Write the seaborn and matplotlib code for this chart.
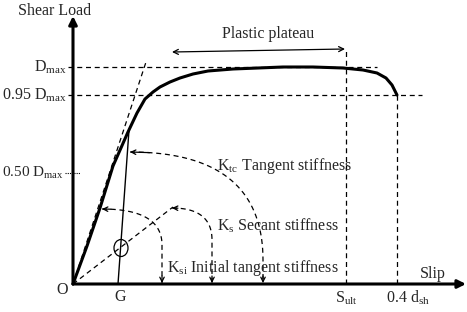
import numpy as np
import seaborn as sns
import matplotlib.pyplot as plt
from matplotlib.patches import Ellipse

# load-slip curve (slip, load) in drawing units
slip = [0, 14, 27, 40, 55, 64, 72, 80, 87, 97, 107, 120, 135, 160, 185, 210, 240, 270, 290, 304, 313, 319, 324]
load = [0, 38, 76, 118, 152, 171, 185, 192, 197, 202, 206, 210, 213, 215, 216, 217, 217, 216, 214, 211, 206, 199, 189]

d_max = 217
d_95 = 189
d_50 = 111
s_ult = 273
d_sh04 = 324
g_slip = 45

level_labels = ["D$_{\\rm max}$", "0.95 D$_{\\rm max}$", "0.50 D$_{\\rm max}$"]
slip_labels = ["S$_{\\rm ult}$", "0.4 d$_{\\rm sh}$"]
stiff_labels = ["K$_{\\rm tc}$ Tangent stiffness", "K$_{\\rm s}$ Secant stiffness",
                "K$_{\\rm si}$ Initial tangent stiffness"]

# stiffness lines (end points from origin)
tangent_end = (73, 222)
secant_end = (100, 77)
g_top = (56, 154)

# arcs: start, corner control, vertical end
arcs = [((57, 132), (190, 132), (190, 24)),
        ((99, 76), (139, 76), (139, 44)),
        ((29, 75), (89, 75), (89, 39))]

sns.set_theme(style="white")
plt.rcParams['font.family'] = ['Liberation Serif', 'DejaVu Serif']
plt.rcParams['mathtext.fontset'] = 'custom'
plt.rcParams['mathtext.rm'] = 'Liberation Serif'

fig = plt.figure(figsize=(4.67, 3.12), dpi=100)
ax = fig.add_axes([0, 0, 1, 1])
ax.set_xlim(-73, 394)
ax.set_ylim(-28, 284)
ax.axis('off')

fs = 11.5
dash = (0, (4, 3))

# axes with arrows
ax.annotate('', xy=(0, 268), xytext=(0, 0),
            arrowprops=dict(arrowstyle='-|>', lw=2.2, color='black', mutation_scale=12, shrinkA=0, shrinkB=0))
ax.annotate('', xy=(393, 0), xytext=(0, 0),
            arrowprops=dict(arrowstyle='-|>', lw=2.2, color='black', mutation_scale=12, shrinkA=0, shrinkB=0))

# main curve
sns.lineplot(x=slip, y=load, sort=False, color='black', lw=2.2, ax=ax)

# reference levels
ax.plot([-5, 304], [d_max, d_max], color='black', lw=0.9, ls=dash)
ax.plot([-5, 349], [d_95, d_95], color='black', lw=0.9, ls=dash)
ax.plot([-8, 7], [d_50, d_50], color='black', lw=0.8, ls=(0, (1, 1)))
ax.plot([s_ult, s_ult], [0, 235], color='black', lw=0.9, ls=dash)
ax.plot([d_sh04, d_sh04], [0, d_95], color='black', lw=0.9, ls=dash)

# stiffness lines
ax.plot([0, tangent_end[0]], [0, tangent_end[1]], color='black', lw=0.9, ls=dash)
ax.plot([0, secant_end[0]], [0, secant_end[1]], color='black', lw=0.9, ls=dash)
ax.plot([g_slip, g_top[0]], [0, g_top[1]], color='black', lw=1.0)
ax.add_patch(Ellipse((48, 36), 14, 17, fill=False, color='black', lw=0.9))

# dashed arcs with arrowheads
t = np.linspace(0, 1, 40)
for p0, c, p2 in arcs:
    bx = (1 - t) ** 2 * p0[0] + 2 * t * (1 - t) * c[0] + t ** 2 * p2[0]
    by = (1 - t) ** 2 * p0[1] + 2 * t * (1 - t) * c[1] + t ** 2 * p2[1]
    bx = np.append(bx, p2[0])
    by = np.append(by, 1)
    ax.plot(bx, by, color='black', lw=0.9, ls=dash)
    ax.annotate('', xy=(p0[0], p0[1]), xytext=(bx[3], by[3]),
                arrowprops=dict(arrowstyle='->', lw=0.9, color='black', mutation_scale=8, shrinkA=0, shrinkB=0))
    ax.annotate('', xy=(p2[0], 1), xytext=(p2[0], 8),
                arrowprops=dict(arrowstyle='->', lw=0.9, color='black', mutation_scale=8, shrinkA=0, shrinkB=0))

# plastic plateau arrow
ax.annotate('', xy=(99, 232), xytext=(272, 235),
            arrowprops=dict(arrowstyle='<->', lw=0.9, color='black', mutation_scale=9, shrinkA=0, shrinkB=0))
ax.text(195, 250, "Plastic plateau", fontsize=fs, ha='center', va='center')

# labels
ax.text(-18, 273, "Shear Load", fontsize=fs, ha='center', va='center')
for lab, lv, xr, f in zip(level_labels, [d_max, d_95, d_50], [-6, -6, -9], [fs, fs, 11]):
    ax.text(xr, lv, lab, fontsize=f, ha='right', va='center')
ax.text(-11, -6, "O", fontsize=fs, ha='center', va='center')
ax.text(47, -13, "G", fontsize=fs, ha='center', va='center')
for lab, xv in zip(slip_labels, [s_ult, d_sh04 + 11]):
    ax.text(xv, -14, lab, fontsize=fs, ha='center', va='center')
ax.text(360, 10, "Slip", fontsize=fs, ha='center', va='center')
for lab, (xl, yl) in zip(stiff_labels, [(144, 118), (144, 58), (94, 16)]):
    ax.text(xl, yl, lab, fontsize=fs, ha='left', va='center')

fig.savefig('out.png', dpi=100)
